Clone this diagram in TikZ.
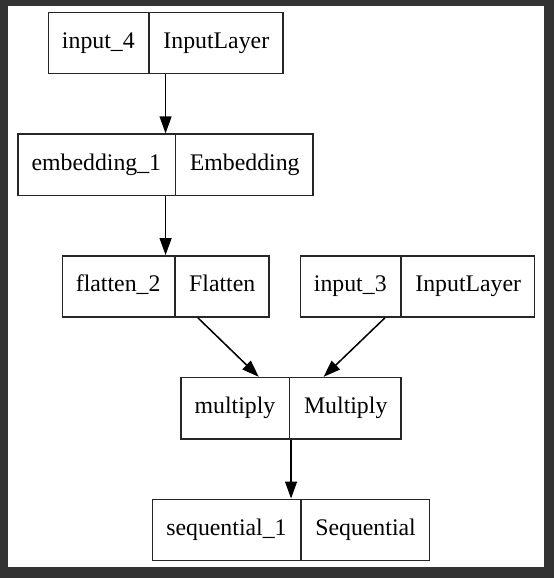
\documentclass[tikz,border=0pt]{standalone}
\usepackage{fontspec}
\setmainfont{Liberation Serif}
\usetikzlibrary{arrows.meta,shapes.multipart}
\newcommand\cellstrut{\rule[-3.5pt]{0pt}{13.5pt}}
\begin{document}
\begin{tikzpicture}[x=1pt,y=1pt,
  layer/.style={draw=black!85,line width=0.9pt,rectangle split,rectangle split horizontal,
    rectangle split parts=2,inner xsep=8pt,inner ysep=0pt,minimum height=36pt,
    font=\fontsize{14}{16}\selectfont},
  edge/.style={line width=0.9pt,-{Triangle[length=10pt,width=7pt]}}]
        \fill [black!80] (0,0) rectangle (325.9,-340);
        \fill [white] (4.7,-3.5) rectangle (320,-333.5);
        \node [layer] (in4) at (97.4,-25.3) {\cellstrut input\_4 \nodepart{two}\cellstrut InputLayer};
        \node [layer] (emb) at (97.4,-96.9) {\cellstrut embedding\_1 \nodepart{two}\cellstrut Embedding};
        \node [layer] (flat) at (97.4,-168.5) {\cellstrut flatten\_2 \nodepart{two}\cellstrut Flatten};
        \node [layer] (in3) at (245.6,-168.5) {\cellstrut input\_3 \nodepart{two}\cellstrut InputLayer};
        \node [layer] (mul) at (171.2,-240.1) {\cellstrut multiply \nodepart{two}\cellstrut Multiply};
        \node [layer] (seq) at (171.2,-311.7) {\cellstrut sequential\_1 \nodepart{two}\cellstrut Sequential};
        \draw [edge] (in4) -- (emb);
        \draw [edge] (emb) -- (flat);
        \draw [edge] (flat) -- (mul);
        \draw [edge] (in3) -- (mul);
        \draw [edge] (mul) -- (seq);
\end{tikzpicture}
\end{document}
